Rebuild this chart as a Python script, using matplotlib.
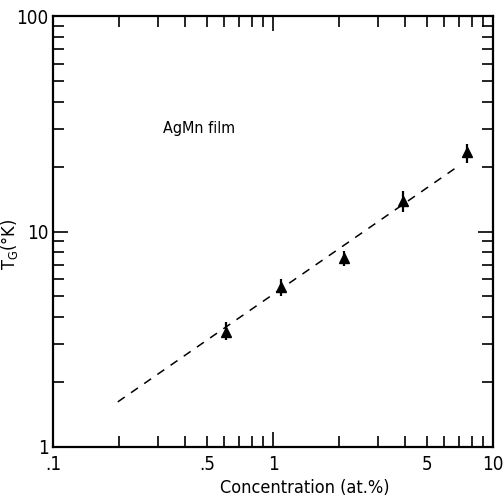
import matplotlib
matplotlib.use('Agg')
import matplotlib.pyplot as plt
from matplotlib.ticker import FixedLocator, FuncFormatter, NullFormatter

plt.rcParams['font.family'] = ['DejaVu Sans']
plt.rcParams['font.stretch'] = 'condensed'
plt.rcParams['mathtext.fontset'] = 'custom'
plt.rcParams['mathtext.rm'] = 'DejaVu Sans:stretch=condensed'
plt.rcParams['mathtext.it'] = 'DejaVu Sans:stretch=condensed'

# measured points (concentration at.%, T_G in K)
conc = [0.61, 1.09, 2.1, 3.9, 7.6]
tg = [3.43, 5.5, 7.5, 13.9, 23.3]
err_lo = [0.28, 0.5, 0.6, 1.6, 2.4]
err_hi = [0.36, 0.55, 0.6, 1.5, 2.2]

# dashed fit line endpoints
fit_x = [0.197, 6.9]
fit_y = [1.62, 20.0]

fig = plt.figure(figsize=(5.03, 5.0), dpi=100)
ax = fig.add_axes([0.1054, 0.106, 0.8748, 0.862])

ax.plot(fit_x, fit_y, color='black', lw=1.1, dashes=(5.5, 5.0))
ax.errorbar(conc, tg, yerr=[err_lo, err_hi], fmt='^', color='black',
            ms=7.5, elinewidth=1.6, capsize=0)

ax.set_xscale('log')
ax.set_yscale('log')
ax.set_xlim(0.1, 10)
ax.set_ylim(1, 100)

# ticks
ax.xaxis.set_major_locator(FixedLocator([0.1, 1, 10]))
ax.xaxis.set_major_formatter(FuncFormatter(lambda v, p: {0.1: '.1', 1: '1', 10: '10'}.get(round(v, 3), '')))
xminor = [0.2, 0.3, 0.4, 0.5, 0.6, 0.7, 0.8, 0.9, 2, 3, 4, 5, 6, 7, 8, 9]
ax.xaxis.set_minor_locator(FixedLocator(xminor))
ax.xaxis.set_minor_formatter(FuncFormatter(lambda v, p: {0.5: '.5', 5: '5'}.get(round(v, 3), '')))
ax.yaxis.set_major_locator(FixedLocator([1, 10, 100]))
ax.yaxis.set_major_formatter(FuncFormatter(lambda v, p: '%d' % round(v)))
ax.yaxis.set_minor_locator(FixedLocator([2, 3, 4, 5, 6, 7, 8, 9, 20, 30, 40, 50, 60, 70, 80, 90]))
ax.yaxis.set_minor_formatter(NullFormatter())

ax.tick_params(which='both', direction='in', top=True, right=True,
               width=1.2, labelsize=13.5)
ax.tick_params(which='major', length=11)
ax.tick_params(which='minor', length=8)
ax.tick_params(axis='x', which='both', pad=6)
ax.tick_params(axis='y', which='both', pad=3)

for s in ax.spines.values():
    s.set_linewidth(1.6)

ax.set_xlabel('Concentration (at.%)', fontsize=13)
ax.xaxis.set_label_coords(0.573, -0.075)
ax.set_ylabel(r'T$_G$($\degree$K)', fontsize=13)
ax.yaxis.set_label_coords(-0.075, 0.47)

ax.text(0.25, 0.74, 'AgMn film', transform=ax.transAxes, fontsize=11.5,
        va='center', ha='left')

fig.savefig('out.png', dpi=100)
